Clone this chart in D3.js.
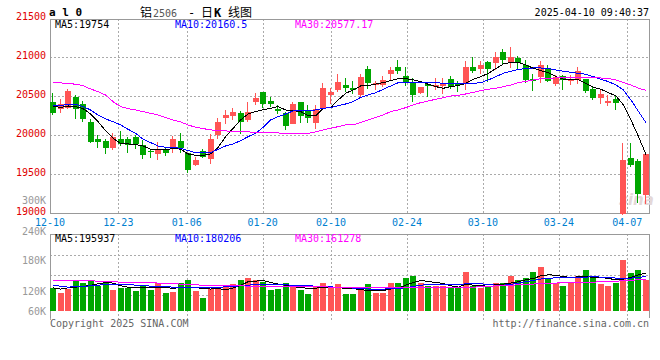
<!DOCTYPE html>
<html><head><meta charset="utf-8">
<script src="https://cdn.jsdelivr.net/npm/d3@7"></script>
<style>
html,body{margin:0;padding:0;background:#fff;}
svg{display:block;}
text{font-family:"DejaVu Sans Mono",monospace;font-size:10px;}
</style></head><body><svg id="c" width="660" height="360"></svg>
<script>
const dates = ["12-10","12-11","12-12","12-13","12-16","12-17","12-18","12-19","12-20","12-23","12-24","12-25","12-26","12-27","12-30","12-31",
"01-02","01-03","01-06","01-07","01-08","01-09","01-10","01-13","01-14","01-15","01-16","01-17","01-20","01-21","01-22","01-23","01-24","01-27",
"02-05","02-06","02-07","02-10","02-11","02-12","02-13","02-14","02-17","02-18","02-19","02-20","02-21","02-24","02-25","02-26","02-27","02-28",
"03-03","03-04","03-05","03-06","03-07","03-10","03-11","03-12","03-13","03-14","03-17","03-18","03-19","03-20","03-21","03-24","03-25","03-26","03-27","03-28","03-31",
"04-01","04-02","04-03","04-07","04-08","04-09","04-10"];
const openP = [20427,20342,20355,20492,20402,20171,19953,19928,19842,19953,
19953,19979,19872,19799,19761,19812,19846,19928,19769,19624,
19795,19701,20004,20222,20248,20291,20192,20428,20556,20440,
20338,20286,20150,20428,20321,20154,20355,20517,20577,20645,
20607,20522,20846,20641,20650,20787,20876,20761,20671,20543,
20663,20620,20637,20722,20671,20671,20876,20851,20940,20928,
21069,20940,20992,20902,20722,20752,20863,20658,20761,20697,
20714,20722,20594,20479,20419,20466,18990,19710,19671,19235];
const highP = [20539,20462,20594,20517,20445,20210,20004,19953,20030,20056,
19974,20000,19945,19829,19915,19846,19992,20026,19778,19727,
19825,20013,20218,20325,20355,20308,20428,20547,20560,20496,
20385,20304,20428,20432,20385,20389,20675,20603,20791,20735,
20693,20782,20885,20693,20761,20876,20966,20876,20735,20625,
20675,20735,20735,20761,20693,20953,21005,20953,20953,21069,
21107,21137,21017,20966,20787,20953,20902,20774,20774,20774,
20876,20722,20633,20594,20517,20517,19902,19902,19697,19770];
const lowP = [20265,20291,20338,20210,20175,19906,19842,19765,19812,19863,
19778,19829,19701,19714,19688,19739,19778,19778,19521,19611,
19714,19633,19953,20150,20197,20022,20171,20385,20346,20363,
20269,20069,20140,20154,20154,20086,20329,20398,20551,20551,
20534,20496,20598,20581,20616,20697,20787,20637,20432,20526,
20492,20581,20530,20594,20560,20581,20799,20787,20684,20838,
20915,20863,20851,20667,20569,20671,20688,20633,20581,20645,
20658,20543,20453,20402,20376,20325,18980,19594,19128,19115];
const closeP = [20291,20398,20569,20342,20214,19919,19919,19842,19974,19885,
19872,19885,19752,19786,19812,19778,19953,19833,19560,19684,
19727,19953,20171,20257,20299,20171,20299,20479,20406,20406,
20312,20124,20402,20244,20218,20333,20607,20556,20680,20611,
20581,20748,20667,20671,20705,20838,20825,20684,20517,20620,
20628,20645,20671,20620,20645,20876,20825,20902,20851,21005,
20966,21005,20928,20710,20701,20902,20701,20748,20705,20722,
20825,20569,20483,20530,20440,20415,19684,19615,19248,19761];
const ma5 = [20376,20355,20376,20368,20342,20274,20175,20060,19962,19897,
19889,19880,19863,19821,19812,19812,19833,19821,19761,19744,
19744,19761,19846,19983,20090,20197,20274,20304,20329,20346,
20368,20325,20316,20304,20252,20248,20346,20355,20453,20539,
20581,20633,20637,20658,20675,20701,20727,20727,20710,20688,
20654,20624,20603,20624,20637,20667,20718,20752,20795,20855,
20915,20936,20932,20902,20859,20829,20804,20752,20718,20718,
20710,20667,20616,20590,20547,20504,20389,20197,19983,19754];
const ma10 = [20385,20380,20398,20398,20368,20325,20261,20210,20175,20133,
20077,20026,19949,19906,19863,19846,19846,19833,19804,19778,
19778,19778,19821,19863,19889,19932,19983,20026,20103,20197,
20239,20274,20312,20312,20312,20325,20346,20355,20380,20402,
20432,20487,20517,20547,20590,20633,20675,20680,20680,20680,
20680,20675,20667,20667,20658,20667,20667,20675,20710,20752,
20795,20821,20846,20855,20863,20863,20855,20838,20821,20808,
20795,20782,20752,20718,20688,20645,20581,20453,20304,20160.5];
const ma30 = [20680,20671,20667,20654,20637,20594,20560,20517,20432,20368,
20342,20325,20304,20282,20261,20227,20197,20171,20133,20103,
20086,20069,20060,20056,20051,20047,20043,20039,20034,20034,
20030,20026,20026,20026,20026,20043,20069,20090,20111,20133,
20133,20163,20197,20231,20261,20304,20325,20355,20389,20419,
20440,20462,20483,20504,20513,20530,20551,20573,20590,20603,
20624,20645,20675,20692,20710,20727,20727,20735,20735,20735,
20740,20740,20744,20735,20727,20710,20675,20645,20603,20577.17];
const volume = [122,91,112,159,148,159,128,148,107,122,
118,103,128,110,148,96,101,148,159,103,
70,112,122,132,138,163,174,159,153,107,
112,143,128,107,86,128,143,122,138,86,
86,107,138,96,96,143,148,169,184,148,
128,128,128,122,118,205,132,122,128,143,
148,180,163,174,205,226,169,148,132,153,
180,215,169,138,128,143,267,200,211,159];
const volMa5 = [120,114,120,124,127,134,141,148,145,131,
124,120,120,120,124,120,119,120,124,122,
117,114,117,110,120,134,152,155,159,148,
140,134,127,120,119,119,122,126,122,117,
117,110,108,105,107,114,119,134,148,159,
153,148,143,131,124,140,134,131,138,138,
140,145,152,162,169,183,188,186,179,174,
178,179,174,174,169,162,166,174,188,195.9];
const volMa10 = [134,129,124,126,127,131,134,138,140,140,
138,134,133,129,127,126,124,124,124,124,
122,122,122,126,127,131,134,138,140,140,
138,136,134,133,131,129,127,126,122,121,
119,117,114,112,114,115,117,121,127,134,
138,140,140,138,138,141,141,141,138,134,
134,138,145,152,159,166,169,173,174,174,
174,176,178,176,174,171,169,171,174,180.2];
const volMa30 = [160,160,159,159,157,157,155,153,152,150,
148,148,147,147,145,143,141,140,138,136,
134,134,133,133,131,131,129,129,129,129,
129,129,127,127,127,126,126,124,124,122,
122,122,122,121,121,121,121,121,121,121,
121,121,121,122,122,124,124,126,127,131,
133,134,136,138,140,143,145,145,147,147,
148,150,150,152,153,155,157,160,162,161.3];
const dateTicks = ["12-10","12-23","01-06","01-20","02-10","02-24","03-10","03-24","04-07"];
const priceTicks = [21500,21000,20500,20000,19500,19000];
const volTickLabels = ["240K","180K","120K","60K"];
const volTickValues = [240000,180000,120000,60000];
const priceMaLabels = ["MA5:19754","MA10:20160.5","MA30:20577.17"];
const volMaLabels = ["MA5:195937","MA10:180206","MA30:161278"];
const maColors = ["#000000","#0000ff","#ff00ff"];

const svg = d3.select("#c");
const RED = "#ff5555", GREEN = "#00a600", GRID = "#aaaaaa", FRAME = "#999999";
const L = 50, R = 650, PT = 19, PB = 213, VT = 234, VB = 318;
const n = dates.length;
const xC = d3.scaleLinear().domain([0, n-1]).range([53, 646]);
const xG = d3.scaleLinear().domain([0, n-1]).range([L, R]);
const yP = d3.scaleLinear().domain([19000, 21500]).range([213.3, 18.3]);
const yV = d3.scaleLinear().domain([0, 400000]).range([311, 234]);
const yVLab = d3.scaleLinear().domain([60000,120000,180000,240000]).range([311.3,291.3,260.8,231.3]);
const vRows = d3.scaleLinear().domain([0,4]).range([235.3, 315.3]);
const px = v => Math.round(v) + 0.5;

const defs = svg.append("defs");
defs.append("clipPath").attr("id","cp").append("rect").attr("x",L).attr("y",PT).attr("width",R-L).attr("height",PB-PT+2);

// grid
const g = svg.append("g").attr("stroke", GRID).attr("stroke-dasharray","2,2").attr("shape-rendering","crispEdges");
dateTicks.forEach(d => {
  const x = px(xG(dates.indexOf(d)));
  g.append("line").attr("x1",x).attr("x2",x).attr("y1",PT).attr("y2",PB);
  g.append("line").attr("x1",x).attr("x2",x).attr("y1",VT).attr("y2",VB+2);
});
priceTicks.slice(1,-1).forEach(v => {
  g.append("line").attr("x1",L).attr("x2",R).attr("y1",px(yP(v))).attr("y2",px(yP(v)));
});
[1,2,3].forEach(k => {
  g.append("line").attr("x1",L).attr("x2",R).attr("y1",px(vRows(k))).attr("y2",px(vRows(k)));
});

// frames
const f = svg.append("g").attr("stroke", FRAME).attr("fill","none").attr("shape-rendering","crispEdges");
f.append("path").attr("d",`M${L+0.5},${PT+0.5}H${R-0.5}V${PB+0.5}H${L+0.5}Z`);
f.append("path").attr("d",`M${L+0.5},${VB}V${VT+0.5}H${R-0.5}V${VB}`);

// watermark
svg.append("text").attr("x",619).attr("y",205).attr("fill","#e4d8d8").style("font-family","DejaVu Sans").style("font-size","15px").style("font-weight","bold").style("font-style","italic").text("sina");

// candles
const cg = svg.append("g").attr("clip-path","url(#cp)").attr("shape-rendering","crispEdges");
d3.range(n).forEach(i => {
  const o = openP[i], c = closeP[i];
  const col = c >= o ? RED : GREEN;
  const left = Math.round(xC(i)) - 3;
  const yh = Math.round(yP(highP[i])), yl = Math.round(yP(lowP[i]));
  cg.append("rect").attr("x", left+2).attr("width",1).attr("y",yh).attr("height",Math.max(1,yl-yh)).attr("fill",col);
  const yt = Math.round(yP(Math.max(o,c))), yb = Math.round(yP(Math.min(o,c)));
  cg.append("rect").attr("x", left).attr("width",6).attr("y",yt).attr("height",Math.max(1,yb-yt)).attr("fill",col);
});
// price MA lines
const lineP = d3.line().x((d,i)=>xC(i)).y(d=>yP(d));
[ma5, ma10, ma30].forEach((arr,k) => {
  cg.append("path").attr("d", lineP(arr)).attr("fill","none").attr("stroke",maColors[k]).attr("stroke-width",1);
});

// volume
const vg = svg.append("g").attr("shape-rendering","crispEdges");
d3.range(n).forEach(i => {
  const col = closeP[i] >= openP[i] ? RED : GREEN;
  const left = Math.round(xC(i)) - 3;
  const yt = Math.round(yV(volume[i]*1000));
  vg.append("rect").attr("x",left).attr("width",6).attr("y",yt).attr("height",Math.round(yV(0))-yt).attr("fill",col);
});
const lineV = d3.line().x((d,i)=>xC(i)).y(d=>yV(d*1000));
[volMa5, volMa10, volMa30].forEach((arr,k) => {
  vg.append("path").attr("d", lineV(arr)).attr("fill","none").attr("stroke",maColors[k]).attr("stroke-width",1);
});

// texts
const t = svg.append("g");
priceTicks.forEach(v => {
  t.append("text").attr("x",46).attr("y",yP(v)+2).attr("text-anchor","end").attr("fill","#e00000").text(d3.format("d")(v));
});
t.append("text").attr("x",46).attr("y",203.6).attr("text-anchor","end").attr("fill","#999").text("300K");
volTickValues.forEach((v,k) => {
  t.append("text").attr("x",46).attr("y",yVLab(v)+3.6).attr("text-anchor","end").attr("fill","#999").text(volTickLabels[k]);
});
dateTicks.forEach(d => {
  t.append("text").attr("x",xG(dates.indexOf(d))).attr("y",225.5).attr("text-anchor","middle").attr("fill","#0080d0").text(d);
});
const maX = [55,175,295];
priceMaLabels.forEach((s,k) => t.append("text").attr("x",maX[k]).attr("y",27.8).attr("fill",maColors[k]).text(s));
volMaLabels.forEach((s,k) => t.append("text").attr("x",maX[k]).attr("y",242).attr("fill",maColors[k]).text(s));

t.append("text").attr("x",49).attr("y",16).attr("fill","#000").style("font-weight","bold").style("font-size","11px").text("a l 0");
const title = t.append("text").attr("y",16.5).attr("fill","#000").style("font-size","12px");
title.append("tspan").attr("x",140).style("font-family","'Noto Sans CJK SC'").text("铝");
title.append("tspan").attr("x",153).attr("fill","#555").style("font-size","10px").text("2506");
title.append("tspan").attr("x",188).text("-");
title.append("tspan").attr("x",201).style("font-family","'Noto Sans CJK SC'").text("日");
title.append("tspan").attr("x",214).style("font-weight","bold").text("K");
title.append("tspan").attr("x",228).style("font-family","'Noto Sans CJK SC'").text("线图");
t.append("text").attr("x",649).attr("y",15.5).attr("text-anchor","end").attr("fill","#000").text("2025-04-10 09:40:37");
t.append("text").attr("x",50).attr("y",327).attr("fill","#666").text("Copyright 2025 SINA.COM");
t.append("text").attr("x",649).attr("y",327).attr("text-anchor","end").attr("fill","#666").text("http://finance.sina.com.cn");
</script></body></html>
